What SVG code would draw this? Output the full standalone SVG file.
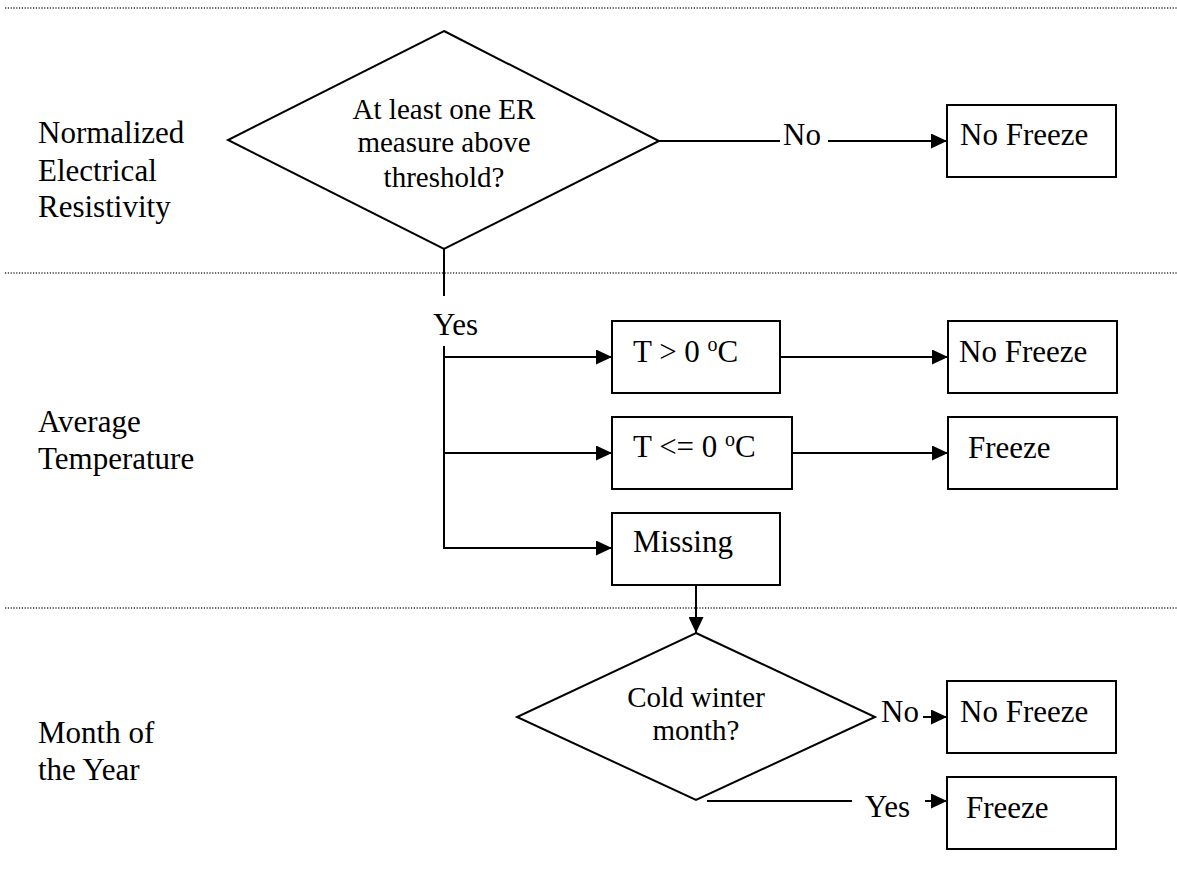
<svg xmlns="http://www.w3.org/2000/svg" width="1177" height="871" viewBox="0 0 1177 871" font-family="'Liberation Serif', 'DejaVu Serif', serif">
<defs>
<marker id="arr" markerUnits="userSpaceOnUse" markerWidth="16" markerHeight="15" refX="16" refY="7.5" orient="auto">
<path d="M0,0 L16,7.5 L0,15 z" fill="#000"/>
</marker>
<style>
text{font-family:'Liberation Serif','DejaVu Serif',serif;fill:#000;}
.lbl{font-size:31px;}
.dt{font-size:29px;text-anchor:middle;}
.shape{fill:#fff;stroke:#000;stroke-width:2;}
.con{stroke:#000;stroke-width:2;fill:none;}
.sep{stroke:#333;stroke-width:1.3;stroke-dasharray:1.2 1.6;fill:none;}
.sup{font-size:20px;}
</style>
</defs>
<g id="separators">
<line class="sep" x1="5" y1="8" x2="1177" y2="8"/>
<line class="sep" x1="5" y1="273" x2="1177" y2="273"/>
<line class="sep" x1="5" y1="608" x2="1177" y2="608"/>
</g>
<g id="row-labels">
<text class="lbl" x="38" y="143">Normalized</text>
<text class="lbl" x="38" y="181">Electrical</text>
<text class="lbl" x="38" y="217">Resistivity</text>
<text class="lbl" x="38" y="432">Average</text>
<text class="lbl" x="38" y="469">Temperature</text>
<text class="lbl" x="38" y="743">Month of</text>
<text class="lbl" x="38" y="780">the Year</text>
</g>
<g id="connectors">
<line class="con" x1="659" y1="141" x2="780" y2="141"/>
<line class="con" x1="828" y1="141" x2="947" y2="141" marker-end="url(#arr)"/>
<line class="con" x1="444" y1="249" x2="444" y2="296"/>
<line class="con" x1="444" y1="346" x2="444" y2="549"/>
<line class="con" x1="443" y1="357" x2="612" y2="357" marker-end="url(#arr)"/>
<line class="con" x1="443" y1="453" x2="612" y2="453" marker-end="url(#arr)"/>
<line class="con" x1="443" y1="548" x2="612" y2="548" marker-end="url(#arr)"/>
<line class="con" x1="780" y1="357" x2="948" y2="357" marker-end="url(#arr)"/>
<line class="con" x1="792" y1="453" x2="948" y2="453" marker-end="url(#arr)"/>
<line class="con" x1="696" y1="585" x2="696" y2="633" marker-end="url(#arr)"/>
<line class="con" x1="923" y1="717" x2="947" y2="717" marker-end="url(#arr)"/>
<line class="con" x1="707" y1="801" x2="852" y2="801"/>
<line class="con" x1="925" y1="801" x2="947" y2="801" marker-end="url(#arr)"/>
<text class="lbl" x="783" y="145">No</text>
<text class="lbl" x="433" y="335">Yes</text>
<text class="lbl" x="881" y="722">No</text>
<text class="lbl" x="865" y="817">Yes</text>
</g>
<g id="d-er">
<polygon class="shape" points="444,31 659,141 444,249 228,140"/>
<text class="dt" x="444" y="119">At least one ER</text>
<text class="dt" x="444" y="152">measure above</text>
<text class="dt" x="444" y="187">threshold?</text>
</g>
<g id="nofreeze-1">
<rect class="shape" x="947" y="105" width="169" height="72"/>
<text class="lbl" x="960" y="145">No Freeze</text>
</g>
<g id="t-above">
<rect class="shape" x="612" y="321" width="168" height="72"/>
<text class="lbl" x="633" y="362">T &gt; 0 <tspan class="sup" dy="-11">o</tspan><tspan dy="11">C</tspan></text>
</g>
<g id="t-below">
<rect class="shape" x="612" y="417" width="180" height="72"/>
<text class="lbl" x="633" y="457">T &lt;= 0 <tspan class="sup" dy="-11">o</tspan><tspan dy="11">C</tspan></text>
</g>
<g id="missing">
<rect class="shape" x="612" y="513" width="168" height="72"/>
<text class="lbl" x="633" y="552">Missing</text>
</g>
<g id="nofreeze-2">
<rect class="shape" x="948" y="321" width="169" height="72"/>
<text class="lbl" x="959" y="362">No Freeze</text>
</g>
<g id="freeze-1">
<rect class="shape" x="948" y="417" width="169" height="72"/>
<text class="lbl" x="968" y="458">Freeze</text>
</g>
<g id="d-month">
<polygon class="shape" points="696,633 875,717 696,800 517,717"/>
<text class="dt" x="696" y="707">Cold winter</text>
<text class="dt" x="696" y="740">month?</text>
</g>
<g id="nofreeze-3">
<rect class="shape" x="947" y="681" width="169" height="72"/>
<text class="lbl" x="960" y="722">No Freeze</text>
</g>
<g id="freeze-2">
<rect class="shape" x="947" y="777" width="169" height="72"/>
<text class="lbl" x="966" y="818">Freeze</text>
</g>
</svg>
